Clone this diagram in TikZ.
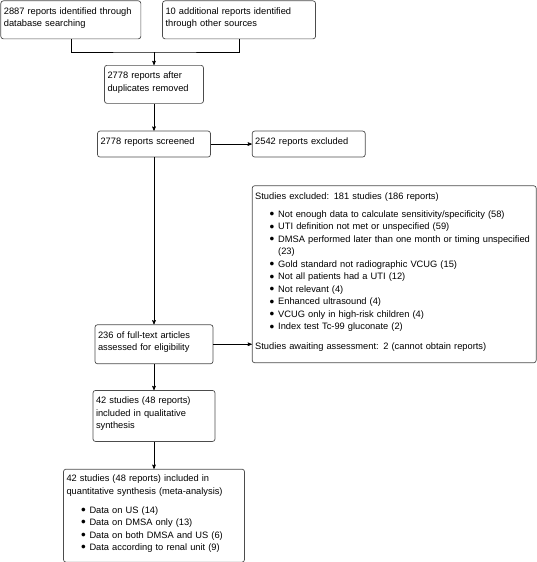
\documentclass[tikz,border=0pt]{standalone}
\usepackage{fontspec}
\setmainfont{Liberation Sans}
\usetikzlibrary{arrows,positioning}
\newcommand{\bul}{\makebox[23pt][l]{\hspace*{14.5pt}\raisebox{-1.2pt}{\fontsize{13.5}{13}\selectfont\textbullet}}}

\begin{document}
\begin{tikzpicture}[>=stealth',x=1pt,y=-1pt,node distance=27pt,
  box/.style={draw=black!70,rounded corners=2.5pt,line width=0.7pt,align=left,
    inner xsep=3pt,inner ysep=2pt,font=\fontsize{9.3}{12.5}\selectfont,
    execute at end node={\endgraf\vspace*{4pt}}}]
  \useasboundingbox (0,0) rectangle (537,562);
  \node[box,anchor=north west,text width=134pt,minimum height=38pt] (db) at (0.5,0.5) {2887 reports identified through\\database searching};
  \node[box,text width=147pt,minimum height=38pt] (other) [right=21pt of db] {10 additional reports identified\\through other sources};
  \node[box,anchor=north,text width=93pt,minimum height=38pt] (dup) at (154,65) {2778 reports after\\duplicates removed};
  \node[box,text width=107pt,minimum height=26pt] (screen) [below=of dup] {2778 reports screened};
  \node[box,text width=107pt,minimum height=26pt] (excl) [right=41pt of screen] {2542 reports excluded};
  \node[box,text width=278pt,minimum height=177pt] (studexcl) [below=28pt of excl.south west,anchor=north west]
    {Studies excluded: 181 studies (186 reports)\\[5.5pt]
     \bul Not enough data to calculate sensitivity/specificity (58)\\
     \bul UTI definition not met or unspecified (59)\\
     \bul DMSA performed later than one month or timing unspecified\\
     \hspace*{23pt}(23)\\
     \bul Gold standard not radiographic VCUG (15)\\
     \bul Not all patients had a UTI (12)\\
     \bul Not relevant (4)\\
     \bul Enhanced ultrasound (4)\\
     \bul VCUG only in high-risk children (4)\\
     \bul Index test Tc-99 gluconate (2)\\[7.5pt]
     Studies awaiting assessment: 2 (cannot obtain reports)};
  \node[box,text width=112pt,minimum height=39pt] (full) [below=167pt of screen] {236 of full-text articles\\assessed for eligibility};
  \node[box,text width=116pt,minimum height=51pt] (qual) [below=26pt of full] {42 studies (48 reports)\\included in qualitative\\synthesis};
  \node[box,text width=175pt,minimum height=93pt] (quant) [below=of qual]
    {42 studies (48 reports) included in\\quantitative synthesis (meta-analysis)\\[6.5pt]
     \bul Data on US (14)\\
     \bul Data on DMSA only (13)\\
     \bul Data on both DMSA and US (6)\\
     \bul Data according to renal unit (9)};

\coordinate[above=13pt of dup.north] (join);
\tikzset{flow/.style={->,line width=0.6pt}}
\draw[line width=0.6pt] (db.south) |- (join) -| (other.south);
\path (join)   edge [flow] (dup.north)
      (dup)    edge [flow] (screen)
      (screen) edge [flow] (excl)
      (screen) edge [flow] (full)
      (full.east) edge [flow] (full.east -| studexcl.west)
      (full)   edge [flow] (qual)
      (qual)   edge [flow] (quant);
\end{tikzpicture}
\end{document}
